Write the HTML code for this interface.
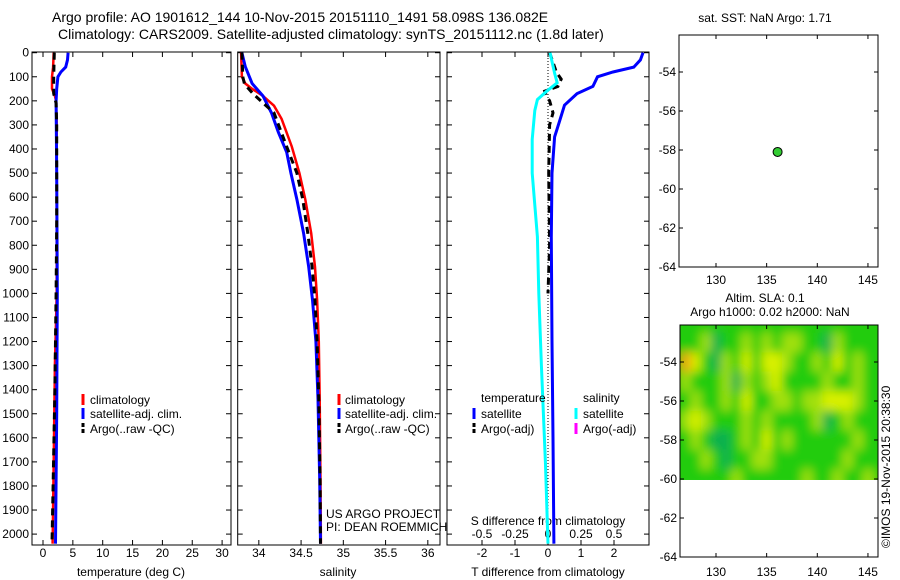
<!DOCTYPE html>
<html><head><meta charset="utf-8">
<style>
body{margin:0;background:#fff;}
svg{display:block;font-family:"Liberation Sans",sans-serif;}
text{fill:#000;}
</style></head>
<body>
<svg id="fig" width="900" height="580" viewBox="0 0 900 580" xmlns="http://www.w3.org/2000/svg">
<defs>
<filter id="blur" x="0" y="0" width="1" height="1"><feGaussianBlur stdDeviation="5"/></filter>
<clipPath id="hmclip"><rect x="680" y="325" width="198" height="155"/></clipPath>
</defs>
<text x="52" y="22" font-size="14">Argo profile: AO 1901612_144 10-Nov-2015 20151110_1491 58.098S 136.082E</text>
<text x="58" y="39" font-size="14">Climatology: CARS2009. Satellite-adjusted climatology: synTS_20151112.nc (1.8d later)</text>
<text x="765" y="22" font-size="12" text-anchor="middle">sat. SST: NaN Argo: 1.71</text>
<text x="765" y="302" font-size="12" text-anchor="middle">Altim. SLA: 0.1</text>
<text x="770" y="316" font-size="12" text-anchor="middle">Argo h1000: 0.02 h2000: NaN</text>
<text transform="translate(890,548) rotate(-90)" font-size="12">©IMOS 19-Nov-2015 20:38:30</text>
<g id="g"></g>
</svg>
<script>
// ---------- data ----------
const depthTicks=[0,100,200,300,400,500,600,700,800,900,1000,1100,1200,1300,1400,1500,1600,1700,1800,1900,2000];
const tTicks=[0,5,10,15,20,25,30];
const sTicks=[34,34.5,35,35.5,36];
const sTickLabels=["34","34.5","35","35.5","36"];
const dtTicks=[-2,-1,0,1,2];
const dsTicks=[-0.5,-0.25,0,0.25,0.5];
const dsTickLabels=["-0.5","-0.25","0","0.25","0.5"];

const tClimDepth=[0,60,100,150,180,200,300,600,1000,1300,1700,2040];
const tClimVal=[1.8,1.7,1.5,1.5,2.0,2.2,2.3,2.3,2.3,2.0,1.8,1.6];
const tSatDepth=[0,30,60,80,100,150,200,500,1000,1500,2040];
const tSatVal=[4.2,4.1,3.8,3.0,2.5,2.3,2.2,2.3,2.4,2.3,2.1];
const tArgoDepth=[0,100,170,190,210,300,700,1000,1400,1800,2040];
const tArgoVal=[1.9,1.8,1.8,2.0,2.2,2.3,2.3,2.2,2.0,1.7,1.5];

const sClimDepth=[0,100,128,150,180,220,275,390,500,610,750,890,1027,1200,1440,1775,2040];
const sClimVal=[33.79,33.80,33.84,33.92,34.05,34.18,34.27,34.39,34.48,34.55,34.62,34.665,34.69,34.71,34.72,34.73,34.735];
const sSatDepth=[0,58,128,180,250,330,414,500,610,750,890,1027,1200,1440,1775,2040];
const sSatVal=[33.80,33.84,33.92,34.05,34.15,34.23,34.33,34.38,34.45,34.53,34.59,34.635,34.675,34.70,34.72,34.73];
const sArgoDepth=[0,100,130,170,250,390,500,610,750,890,1027,1200,1440,1775,2040];
const sArgoVal=[33.80,33.81,33.83,33.93,34.18,34.33,34.45,34.52,34.58,34.63,34.665,34.69,34.71,34.725,34.73];

const dtSatDepth=[0,30,60,80,100,140,170,218,280,350,500,765,1200,1600,2040];
const dtSatVal=[2.88,2.8,2.6,1.97,1.5,1.36,0.88,0.5,0.36,0.2,0.12,0.1,0.12,0.15,0.18];
const dsSatDepth=[0,85,125,160,195,240,360,500,765,1000,1300,1700,2040];
const dsSatVal=[0.015,0.05,0.07,-0.01,-0.08,-0.1,-0.12,-0.12,-0.08,-0.07,-0.05,-0.02,0.0];
const dtArgoDepth=[0,40,80,110,140,160,180,200,250,300,500,800,1000];
const dtArgoVal=[0.05,0.15,0.25,0.4,0.3,-0.1,-0.05,0.05,0.15,0.05,0.02,0.05,0.0];

const mapLon=[136.08];
const mapLat=[-58.1];

// SLA field rows (lat -53..-60), cols lon 127..145 ; 0 teal,1 green,2 yellowgreen,3 yellow,4 orange
const slaGrid=[
[1,1,2,0,1,1,2,1,2,1,2,2,1,1,0,2,1,1,1],
[4,3,1,0,2,1,3,1,3,3,2,1,1,2,1,3,1,2,1],
[2,1,1,1,2,0,2,1,2,3,1,1,1,1,2,1,1,2,1],
[1,2,1,1,2,1,3,1,1,2,2,1,2,2,3,3,3,2,1],
[2,3,2,1,1,1,2,1,2,1,1,1,1,2,0,1,2,1,1],
[1,2,1,0,0,1,2,1,3,1,2,1,1,1,1,1,1,2,1],
[1,1,2,1,0,1,1,2,2,1,1,1,1,1,1,1,2,1,1],
[1,1,1,1,1,2,1,1,1,1,1,1,2,1,1,2,1,1,2]
];
const slaColors=["#10b050","#22cc10","#a0e010","#d8f000","#f0a010"];

// ---------- helpers ----------
const NS="http://www.w3.org/2000/svg";
const G=document.getElementById('g');
function mk(tag,attrs,parent){const e=document.createElementNS(NS,tag);for(const k in attrs)e.setAttribute(k,attrs[k]);(parent||G).appendChild(e);return e;}
const Y=d=>52.7+d*0.2407;
const xT=v=>43+v*5.97;
const xS=v=>237.7+(v-33.75)*84.5;
const xDT=v=>548+v*33;
const xDS=v=>548+v*132;
const mapX=lon=>716+(lon-130)*10.13;
const mapY=lat=>72+(-54-lat)*19.5;
const hmX=lon=>716+(lon-130)*10.13;
const hmY=lat=>362+(-54-lat)*19.5;

function line(xs,ds,fx,color,w,dash,name){
  const pts=xs.map((v,i)=>fx(v).toFixed(1)+","+Y(ds[i]).toFixed(1)).join(" ");
  const p=mk('polyline',{points:pts,fill:'none',stroke:color,'stroke-width':w});
  if(dash)p.setAttribute('stroke-dasharray',dash);
  
  
}
function frame(x0,x1,name){
  const r=mk('rect',{x:x0,y:52,width:x1-x0,height:493,fill:'none',stroke:'#000','stroke-width':1});
  
  
  depthTicks.forEach(d=>{mk('line',{x1:x0,x2:x0+5,y1:Y(d),y2:Y(d),stroke:'#000'});mk('line',{x1:x1-5,x2:x1,y1:Y(d),y2:Y(d),stroke:'#000'});});
}
function xticks(vals,fx,labels,ly,name){
  vals.forEach((v,i)=>{const x=fx(v);mk('line',{x1:x,x2:x,y1:52,y2:57,stroke:'#000'});mk('line',{x1:x,x2:x,y1:540,y2:545,stroke:'#000'});
    if(labels){const t=mk('text',{x:x,y:ly,'font-size':12,'text-anchor':'middle'});t.textContent=labels[i];
    
    }});
}
function txt(x,y,s,name,anchor,size){const t=mk('text',{x:x,y:y,'font-size':size||12,'text-anchor':anchor||'start'});t.textContent=s;
  
  return t;}
function legMark(x,y,color,dash,name){const l=mk('line',{x1:x,x2:x,y1:y-10,y2:y+1,stroke:color,'stroke-width':3});if(dash)l.setAttribute('stroke-dasharray',dash);
  
  }

// ---------- panel 1 temperature ----------
frame(32,231,'temperature-axes');
depthTicks.forEach(d=>txt(29,Y(d)+4,String(d),'depth-tick-label','end'));
xticks(tTicks,xT,tTicks.map(String),557,'temperature-tick-label');
txt(131,576,'temperature (deg C)','temperature-x-title','middle');
line(tClimVal,tClimDepth,xT,'#f00',2.5,null,'temperature-climatology-line');
line(tSatVal,tSatDepth,xT,'#00f',3,null,'temperature-satellite-line');
line(tArgoVal,tArgoDepth,xT,'#000',3,'7,5','temperature-argo-line');
legMark(83,404,'#f00',null,'legend-climatology-marker');txt(90,404,'climatology','legend-climatology');
legMark(83,418,'#00f',null,'legend-satellite-marker');txt(90,418,'satellite-adj. clim.','legend-satellite');
legMark(83,433,'#000','4,2','legend-argo-marker');txt(90,433,'Argo(..raw -QC)','legend-argo');

// ---------- panel 2 salinity ----------
frame(237.7,440,'salinity-axes');
xticks(sTicks,xS,sTickLabels,557,'salinity-tick-label');
txt(338,576,'salinity','salinity-x-title','middle');
line(sClimVal,sClimDepth,xS,'#f00',2.5,null,'salinity-climatology-line');
line(sSatVal,sSatDepth,xS,'#00f',3,null,'salinity-satellite-line');
line(sArgoVal,sArgoDepth,xS,'#000',3,'7,5','salinity-argo-line');
legMark(339,404,'#f00',null,'legend-climatology-marker');txt(345,404,'climatology','legend-climatology');
legMark(339,418,'#00f',null,'legend-satellite-marker');txt(345,418,'satellite-adj. clim.','legend-satellite');
legMark(339,433,'#000','4,2','legend-argo-marker');txt(345,433,'Argo(..raw -QC)','legend-argo');
txt(326,518,'US ARGO PROJECT','project-label');
txt(326,531,'PI: DEAN ROEMMICH','pi-label');

// ---------- panel 3 differences ----------
frame(447,649,'difference-axes');
xticks(dtTicks,xDT,dtTicks.map(String),557,'t-diff-tick-label');
dsTicks.forEach((v,i)=>{const t=txt(xDS(v),538,dsTickLabels[i],'s-diff-tick-label','middle');});
txt(548,525,'S difference from climatology','s-diff-title','middle');
txt(548,576,'T difference from climatology','t-diff-title','middle');
const zl=mk('line',{x1:xDT(0),x2:xDT(0),y1:52,y2:545,stroke:'#000','stroke-dasharray':'1,2'});


line(dtArgoVal,dtArgoDepth,xDT,'#000',3,'7,5','t-diff-argo-line');
line(dsSatVal,dsSatDepth,xDS,'#00ffff',3,null,'s-diff-satellite-line');
line(dtSatVal,dtSatDepth,xDT,'#00f',3,null,'t-diff-satellite-line');
txt(481,402,'temperature','legend-temperature-header');
txt(583,402,'salinity','legend-salinity-header');
legMark(474,418,'#00f',null,'legend-t-satellite-marker');txt(481,418,'satellite','legend-t-satellite');
legMark(474,433,'#000','4,2','legend-t-argo-marker');txt(481,433,'Argo(-adj)','legend-t-argo');
legMark(576,418,'#00ffff',null,'legend-s-satellite-marker');txt(583,418,'satellite','legend-s-satellite');
legMark(576,433,'#ff00ff',null,'legend-s-argo-marker');txt(583,433,'Argo(-adj)','legend-s-argo');

// ---------- top map ----------
const mr=mk('rect',{x:679,y:35,width:199,height:232,fill:'none',stroke:'#000'});


[-54,-56,-58,-60,-62,-64].forEach(l=>{const y=mapY(l);mk('line',{x1:679,x2:683,y1:y,y2:y,stroke:'#000'});mk('line',{x1:874,x2:878,y1:y,y2:y,stroke:'#000'});txt(676,y+4,String(l),'map-lat-label','end');});
[130,135,140,145].forEach(l=>{const x=mapX(l);mk('line',{x1:x,x2:x,y1:35,y2:39,stroke:'#000'});mk('line',{x1:x,x2:x,y1:263,y2:267,stroke:'#000'});txt(x,284,String(l),'map-lon-label','middle');});
mapLon.forEach((lon,i)=>{const c=mk('circle',{cx:mapX(lon),cy:mapY(mapLat[i]),r:4.5,fill:'#33cc33',stroke:'#000','stroke-width':1});

});

// ---------- bottom SLA map ----------
const hg=mk('g',{'clip-path':'url(#hmclip)'});


const inner=mk('g',{filter:'url(#blur)'},hg);
mk('rect',{x:670,y:315,width:220,height:175,fill:'#22cc10'},inner);
slaGrid.forEach((row,r)=>row.forEach((v,c)=>{const lon=126.5+c,lat=-52.5-r;
  const cell=mk('rect',{x:hmX(lon),y:hmY(lat),width:10.13+0.5,height:19.5+0.5,fill:slaColors[v]},inner);
  
  
}));
const hr=mk('rect',{x:680,y:325,width:198,height:232,fill:'none',stroke:'#000'});


[-54,-56,-58,-60,-62,-64].forEach(l=>{const y=hmY(l);mk('line',{x1:680,x2:684,y1:y,y2:y,stroke:'#000'});mk('line',{x1:874,x2:878,y1:y,y2:y,stroke:'#000'});txt(677,y+4,String(l),'sla-lat-label','end');});
[130,135,140,145].forEach(l=>{const x=hmX(l);mk('line',{x1:x,x2:x,y1:325,y2:329,stroke:'#000'});mk('line',{x1:x,x2:x,y1:553,y2:557,stroke:'#000'});txt(x,576,String(l),'sla-lon-label','middle');});
</script>
</body></html>
